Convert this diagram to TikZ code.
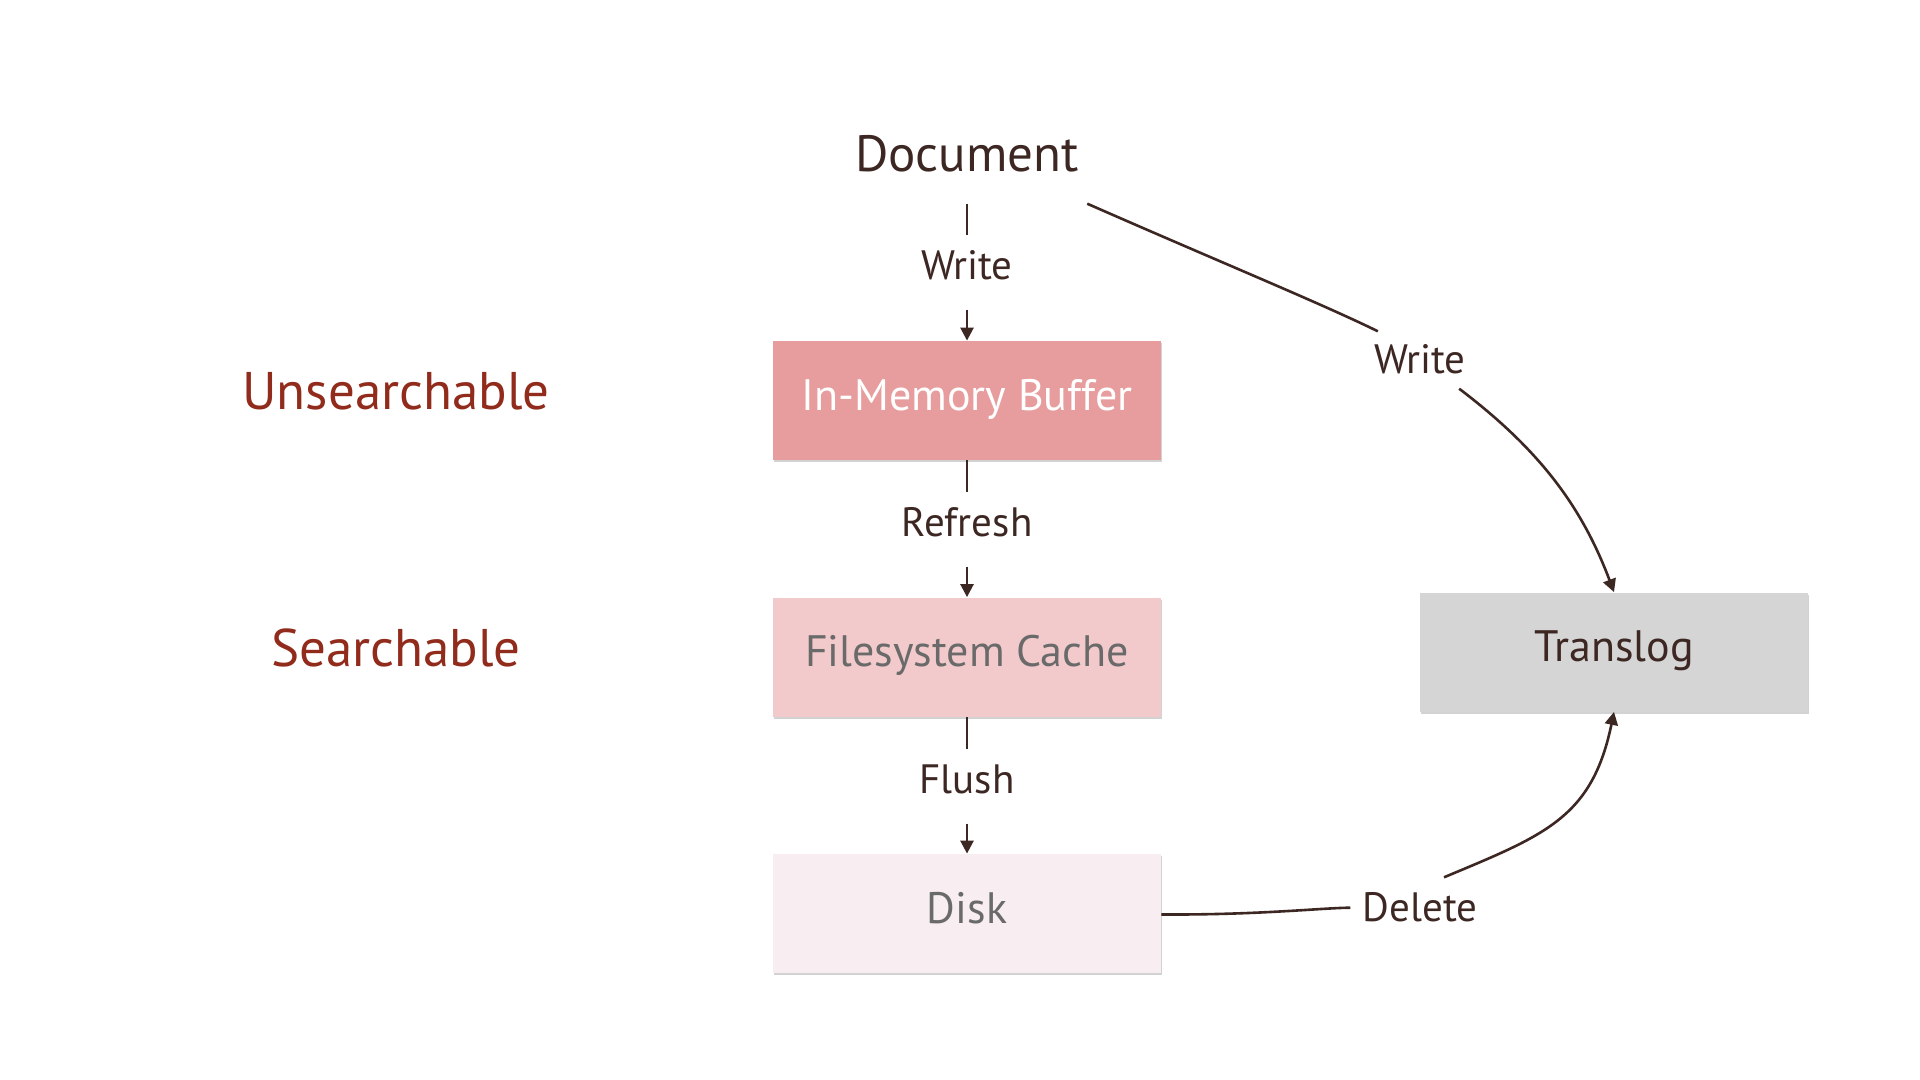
\documentclass[tikz,border=0pt]{standalone}
\usepackage{fontspec}
\setmainfont{PT Sans}
\usetikzlibrary{arrows.meta,shadows}
\definecolor{ink}{HTML}{3C2723}
\definecolor{redlbl}{HTML}{912B1C}
\definecolor{graytxt}{HTML}{6A6A6A}
\definecolor{imbfill}{HTML}{E79D9D}
\definecolor{fsfill}{HTML}{F3CACB}
\definecolor{diskfill}{HTML}{F8EDF1}
\definecolor{tlfill}{HTML}{D5D5D5}
\tikzset{
  boxnode/.style={rectangle, minimum width=194pt, minimum height=59.5pt, inner sep=0pt,
    font=\fontsize{22pt}{26pt}\selectfont, text height=15.4pt, text depth=5.5pt,
    drop shadow={shadow xshift=0.5pt, shadow yshift=-1pt, opacity=0.25, fill=black!70}},
  lbl/.style={font=\fontsize{20.5pt}{24pt}\selectfont, text=ink, text height=14.3pt, text depth=0pt,
    inner xsep=6pt, inner ysep=7.5pt},
  side/.style={font=\fontsize{26.5pt}{30pt}\selectfont, text=redlbl, text height=18.5pt, text depth=0pt},
  conn/.style={draw=ink, line width=1.3pt},
  arr/.style={conn, -{Triangle[length=6.5pt,width=6.5pt]}}
}
\begin{document}
\begin{tikzpicture}[x=0.5pt, y=-0.5pt]
\useasboundingbox[fill=white] (0,0) rectangle (1920,1080);

% main column
\node[font=\fontsize{25.5pt}{30pt}\selectfont, text=ink, text height=17.8pt, text depth=0pt,
      inner xsep=4pt, inner ysep=16pt] (doc) at (967,153.5) {Document};
\node[boxnode, fill=imbfill, text=white] (imb) at (967,400.5) {In-Memory Buffer};
\node[boxnode, fill=fsfill, text=graytxt] (fs) at (967,657) {Filesystem Cache};
\node[boxnode, fill=diskfill, text=graytxt] (disk) at (967,913.5) {Disk};
\node[boxnode, fill=tlfill, text=ink] (tl) at (1614,652) {Translog};

% side labels
\node[side] (unsrch) at (396,391) {Unsearchable};
\node[side] (srch) at (396,648) {Searchable};

% edge labels
\node[lbl] (w1) at (967,265) {Write};
\node[lbl] (rf) at (967,522) {Refresh};
\node[lbl] (fl) at (967,779) {Flush};
\node[lbl] (w2) at (1420,359) {Write};
\node[lbl] (dl) at (1420,907) {Delete};

% vertical flow
\draw[conn] (doc.south) -- (w1.north);
\draw[arr, shorten <=7.5pt] (w1.south) -- (imb.north);
\draw[conn] (imb.south) -- (rf.north);
\draw[arr, shorten <=7.5pt] (rf.south) -- (fs.north);
\draw[conn] (fs.south) -- (fl.north);
\draw[arr, shorten <=7.5pt] (fl.south) -- (disk.north);

% document -> translog
\draw[conn] (doc.south east) .. controls (1220,262) and (1320,303) .. ([xshift=8pt,yshift=-1pt]w2.north west);
\draw[arr] (w2) .. controls (1540,450) and (1582,507) .. (tl.north);

% disk -> translog
\draw[conn] (disk) .. controls (1260,915) and (1320,908) .. (dl);
\draw[arr] ([xshift=12pt]dl.north) .. controls (1545,835) and (1592,818) .. (tl.south);
\end{tikzpicture}
\end{document}
